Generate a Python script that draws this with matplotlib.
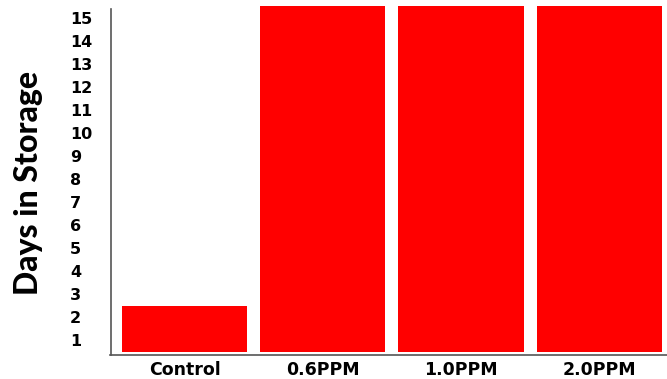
import numpy as np
import matplotlib
matplotlib.use("Agg")
import matplotlib.pyplot as plt

# storage life per treatment
treatments = ["Control", "0.6PPM", "1.0PPM", "2.0PPM"]
days = [2, 15, 15, 15]
day_labels = [str(d) for d in range(1, 16)]

fig = plt.figure(figsize=(6.67, 3.79), dpi=100)
ax = fig.add_axes([110.5 / 667, 24 / 379, 1 - 110.5 / 667, 349 / 379])

x = np.arange(len(treatments))
ax.bar(x, days, width=0.906, color="#ff0000", zorder=2)

ax.set_xlim(-0.536, 3.49)
ax.set_ylim(-0.13, 15.0)

# day numbers sit in the middle of each one-day band
ax.set_yticks(np.arange(1, 16) - 0.5)
ax.set_yticklabels(day_labels, fontfamily="DejaVu Sans", fontweight="bold",
                   fontsize=11.5, ha="left")
ax.tick_params(axis="y", length=0, pad=29)

ax.set_xticks(x)
ax.set_xticklabels(treatments, fontfamily="DejaVu Sans", fontweight="bold",
                   fontsize=12.5)
ax.tick_params(axis="x", length=0, pad=4)

for s in ["top", "right"]:
    ax.spines[s].set_visible(False)
ax.spines["left"].set_color("#555555")
ax.spines["bottom"].set_color("#555555")
ax.spines["left"].set_linewidth(1.2)
ax.spines["bottom"].set_linewidth(1.2)
ax.spines["left"].set_bounds(-0.13, 14.85)

fig.text(29 / 667, 1 - 183 / 379, "Days in Storage", rotation=90,
         ha="center", va="center", fontfamily="Lato", fontweight="black",
         fontsize=23)

fig.savefig("out.png", dpi=100)
